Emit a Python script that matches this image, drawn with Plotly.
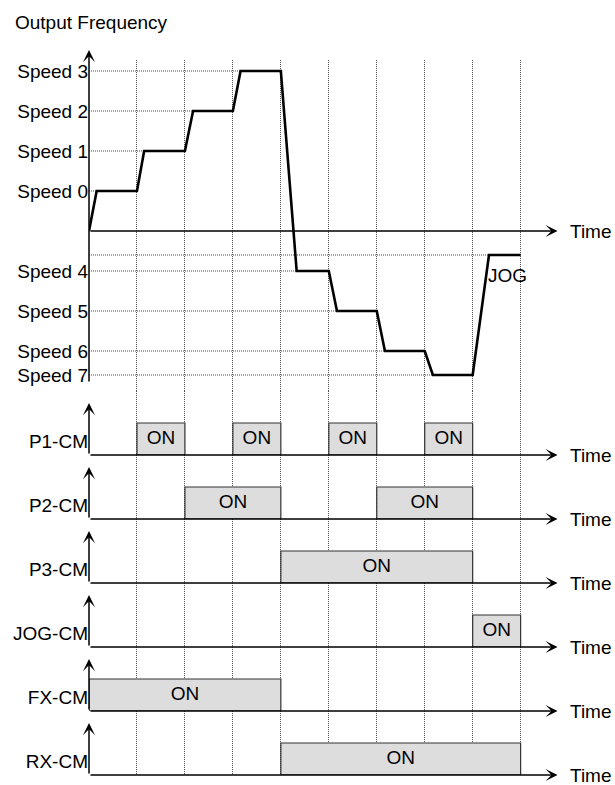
import plotly.graph_objects as go
from plotly.subplots import make_subplots

# output frequency levels (schematic units, 0 = stopped)
speed_names = ["Speed 0", "Speed 1", "Speed 2", "Speed 3",
               "Speed 4", "Speed 5", "Speed 6", "Speed 7"]
speed_levels = [1, 2, 3, 4, -1, -2, -3, -3.6]
speed_hold_end = [1, 2, 3, 4, 5, 6, 7, 8]
jog_level = -0.6

# frequency profile vs time (time in grid steps)
profile_t = [0, 0.16, 1, 1.15, 2, 2.17, 3, 3.16, 4, 4.33,
             5, 5.17, 6, 6.17, 7, 7.17, 8, 8.34, 9]
profile_f = [0, 1, 1, 2, 2, 3, 3, 4, 4, -1,
             -1, -2, -2, -3, -3, -3.6, -3.6, -0.6, -0.6]

# terminal inputs and their ON intervals
signal_names = ["P1-CM", "P2-CM", "P3-CM", "JOG-CM", "FX-CM", "RX-CM"]
signal_on = [
    [(1, 2), (3, 4), (5, 6), (7, 8)],
    [(2, 4), (6, 8)],
    [(4, 8)],
    [(8, 9)],
    [(0, 4)],
    [(4, 9)],
]

FONT = "Liberation Sans, Arial, sans-serif"
FS = 19
T_END = 9.77
GRID = "#4d4d4d"
DOTS = "1px,1px"

W, H = 615, 785

n_sig = len(signal_names)
fig = make_subplots(
    rows=1 + n_sig, cols=1, shared_xaxes=True,
    vertical_spacing=0,
    row_heights=[331] + [64] * n_sig,
)


def refs(r):
    return ("x", "y") if r == 1 else (f"x{r}", f"y{r}")


def axis_arrow(r, x0, y0, x1, y1):
    xr, yr = refs(r)
    fig.add_annotation(
        x=x1, y=y1, ax=x0, ay=y0,
        xref=xr, yref=yr, axref=xr, ayref=yr,
        text="", showarrow=True,
        arrowhead=3, arrowsize=1.35, arrowwidth=1.5, arrowcolor="black",
        standoff=0, startstandoff=0,
    )


def time_label(r, y):
    xr, yr = refs(r)
    fig.add_annotation(
        x=T_END, y=y, xref=xr, yref=yr, text="Time", showarrow=False,
        xanchor="left", yanchor="middle", xshift=10,
        font=dict(family=FONT, size=FS, color="black"),
    )


# --- output frequency panel ---
for name, lvl, end in zip(speed_names, speed_levels, speed_hold_end):
    fig.add_trace(go.Scatter(
        x=[0, end], y=[lvl, lvl], mode="lines",
        line=dict(color=GRID, width=1, dash=DOTS), hoverinfo="skip",
    ), row=1, col=1)
fig.add_trace(go.Scatter(
    x=[0, profile_t[-1]], y=[jog_level, jog_level], mode="lines",
    line=dict(color=GRID, width=1, dash=DOTS), hoverinfo="skip",
), row=1, col=1)

fig.add_trace(go.Scatter(
    x=profile_t, y=profile_f, mode="lines",
    line=dict(color="black", width=2.6), hoverinfo="skip",
), row=1, col=1)

fig.add_annotation(
    x=8.73, y=-1.12, xref="x", yref="y", text="JOG", showarrow=False,
    font=dict(family=FONT, size=FS, color="black"),
)

axis_arrow(1, 0, 0, T_END, 0)
axis_arrow(1, 0, -3.8, 0, 4.525)
time_label(1, 0)

fig.update_yaxes(
    range=[-4, 4.275], tickvals=speed_levels, ticktext=speed_names,
    row=1, col=1,
)

# --- terminal signal panels ---
for i, (name, spans) in enumerate(zip(signal_names, signal_on)):
    r = i + 2
    for a, b in spans:
        fig.add_trace(go.Scatter(
            x=[a, a, b, b, a], y=[0, 1, 1, 0, 0], mode="lines",
            fill="toself", fillcolor="#dddddd",
            line=dict(color="#333333", width=1.2), hoverinfo="skip",
        ), row=r, col=1)
        fig.add_trace(go.Scatter(
            x=[(a + b) / 2], y=[0.5], mode="text", text=["ON"],
            textfont=dict(family=FONT, size=FS, color="black"),
            hoverinfo="skip",
        ), row=r, col=1)
    axis_arrow(r, 0, 0, T_END, 0)
    axis_arrow(r, 0, 0, 0, 1.625)
    time_label(r, 0)
    fig.update_yaxes(range=[0, 2], tickvals=[0.42], ticktext=[name],
                     row=r, col=1)

fig.update_xaxes(
    range=[0, 9.8], dtick=1, tick0=0, showgrid=True, griddash=DOTS,
    gridcolor=GRID, gridwidth=1, showticklabels=False, zeroline=False,
    showline=False, ticks="", automargin=False,
)
fig.update_yaxes(
    showgrid=False, zeroline=False, showline=False, ticks="",
    automargin=False,
    tickfont=dict(family=FONT, size=FS, color="black"),
)

fig.update_layout(
    width=W, height=H,
    margin=dict(l=89, r=56, t=60, b=10),
    plot_bgcolor="white", paper_bgcolor="white",
    showlegend=False,
    title=dict(
        text="Output Frequency", x=15 / W, y=1 - 22 / H,
        xanchor="left", yanchor="middle", xref="container", yref="container",
        font=dict(family=FONT, size=FS, color="black"),
    ),
)

# drop the default page margin so the figure fills the window exactly
fig.write_html(
    "out.html",
    config={"displayModeBar": False},
    post_script="document.body.style.margin = '0';",
)
